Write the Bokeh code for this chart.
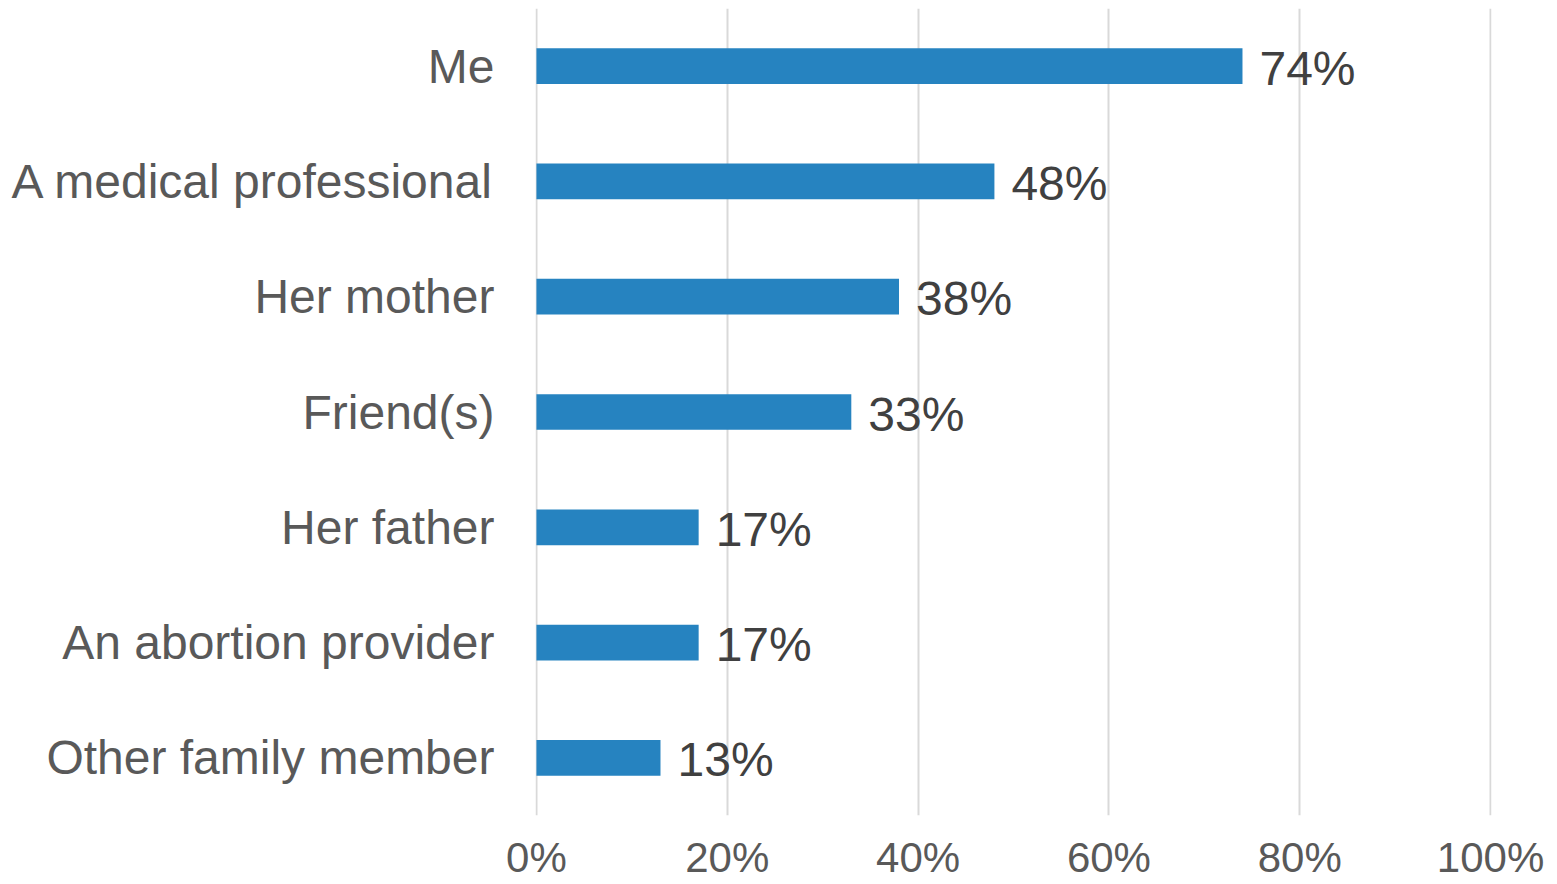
from bokeh.plotting import figure
from bokeh.models import ColumnDataSource, FixedTicker, CustomJSTickFormatter
from bokeh.core.properties import value
from bokeh.embed import file_html
from bokeh.resources import INLINE

categories = ["Me", "A medical professional", "Her mother", "Friend(s)",
              "Her father", "An abortion provider", "Other family member"]
values = [74, 48, 38, 33, 17, 17, 13]
labels = ["74%", "48%", "38%", "33%", "17%", "17%", "13%"]
ticks = [0, 20, 40, 60, 80, 100]

src = ColumnDataSource(dict(cat=categories, val=values, lab=labels))

p = figure(width=1557, height=884, y_range=list(reversed(categories)), x_range=(-0.1, 100.1),
           output_backend="svg", toolbar_location=None,
           min_border_left=535, min_border_right=66, min_border_top=8, min_border_bottom=69)
p.outline_line_color = None
p.background_fill_color = "white"

p.xgrid.grid_line_color = "#d9d9d9"
p.xgrid.grid_line_width = 2
p.xgrid.ticker = FixedTicker(ticks=ticks)
p.ygrid.grid_line_color = None

p.hbar(y="cat", right="val", left=0, height=0.31, source=src, color="#2683C0", line_color=None)
p.text(x="val", y="cat", text="lab", source=src, x_offset=17, y_offset=2,
       text_baseline="middle", text_align="left", text_font=value("Liberation Sans"),
       text_font_size="48px", text_color="#404040")

p.xaxis.ticker = FixedTicker(ticks=ticks)
p.xaxis.formatter = CustomJSTickFormatter(code="return tick + '%';")
p.xaxis.axis_line_color = None
p.xaxis.major_tick_line_color = None
p.xaxis.minor_tick_line_color = None
p.xaxis.major_label_text_font = "Liberation Sans"
p.xaxis.major_label_text_font_size = "42px"
p.xaxis.major_label_text_color = "#595959"
p.xaxis.major_label_standoff = 12

p.yaxis.axis_line_color = None
p.yaxis.major_tick_line_color = None
p.yaxis.minor_tick_line_color = None
p.yaxis.major_label_text_font = "Liberation Sans"
p.yaxis.major_label_text_font_size = "48px"
p.yaxis.major_label_text_color = "#595959"
p.yaxis.major_label_standoff = 35

p.y_range.range_padding = 0

open("out.html", "w").write(file_html(p, INLINE))
